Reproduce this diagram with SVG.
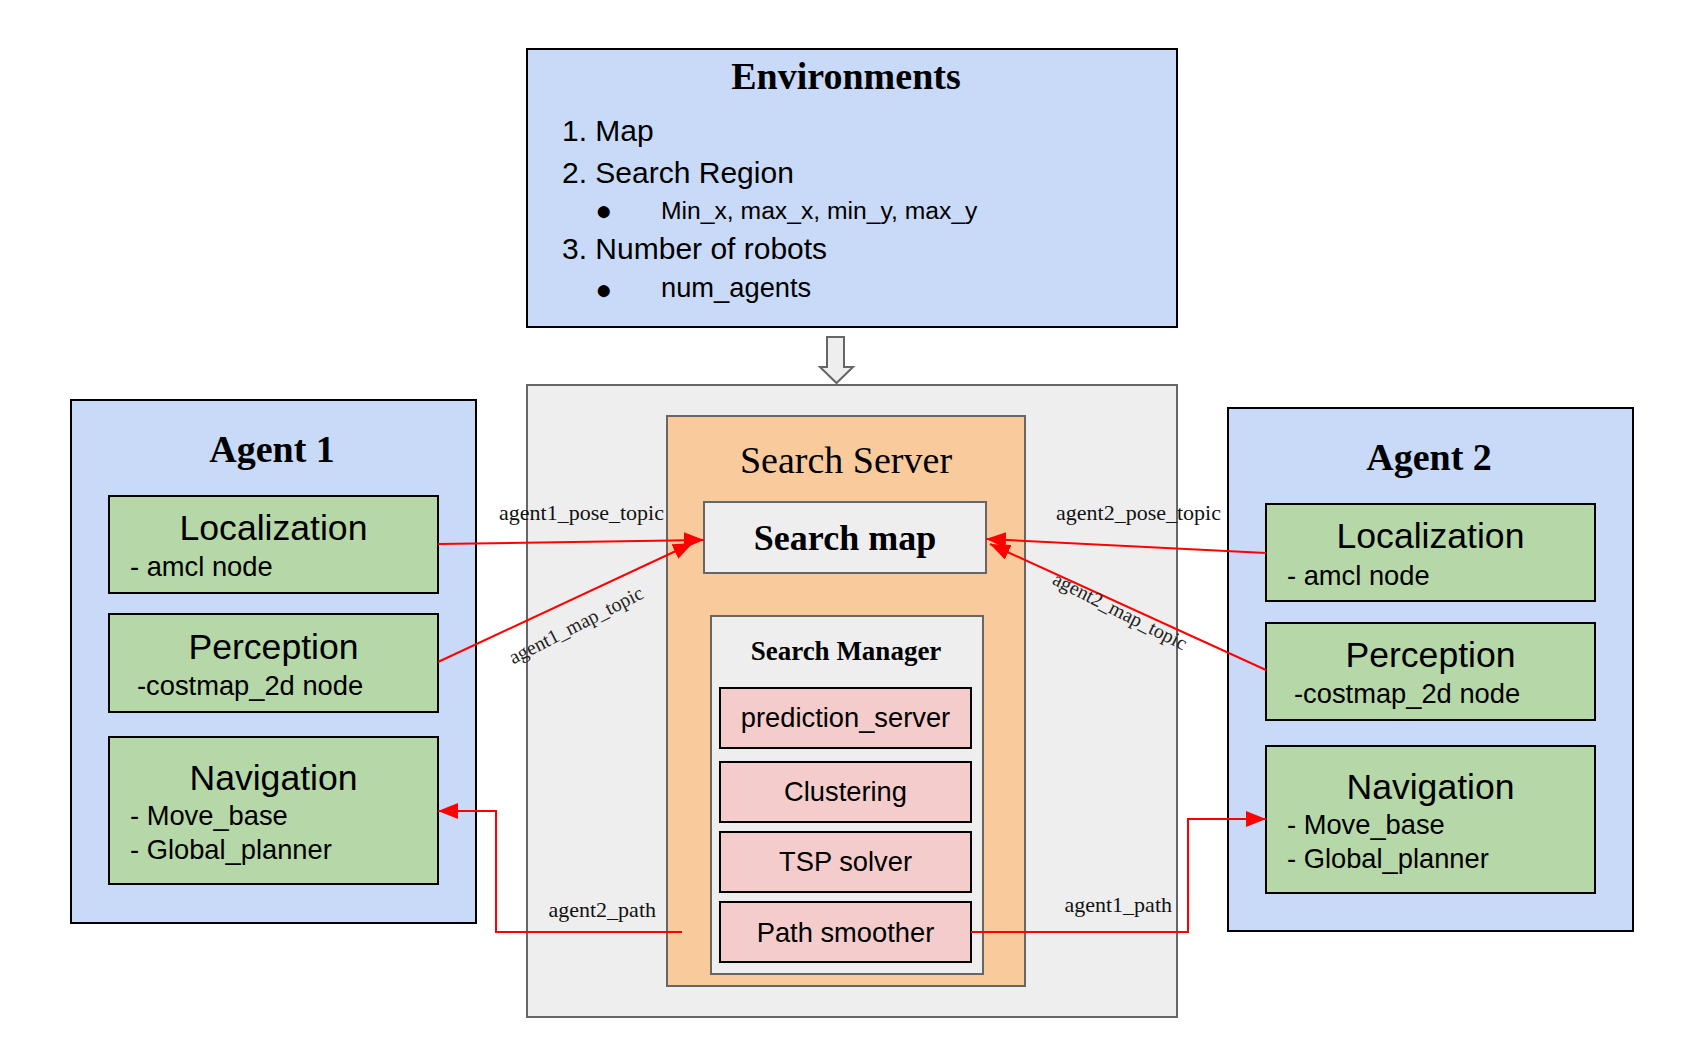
<svg xmlns="http://www.w3.org/2000/svg" width="1707" height="1059" viewBox="0 0 1707 1059">
<style>
.blue{fill:#c9daf8;stroke:#000;stroke-width:2}
.green{fill:#b6d7a8;stroke:#000;stroke-width:2}
.pink{fill:#f4cccc;stroke:#000;stroke-width:2}
.grey{fill:#eeeeee;stroke:#666;stroke-width:2}
.orange{fill:#f9cb9c;stroke:#666;stroke-width:2}
.sb{font-family:"Liberation Serif",serif;font-weight:bold;fill:#000}
.sr{font-family:"Liberation Serif",serif;fill:#000}
.ss{font-family:"Liberation Sans",Arial,sans-serif;fill:#000}
.c{text-anchor:middle}
.wire{fill:none;stroke:#ff0000;stroke-width:2}
.lbl{font-family:"Liberation Serif",serif;font-size:22px;fill:#111}
.lbl2{font-family:"Liberation Serif",serif;font-size:20px;fill:#222}
</style>
<defs>
<marker id="ah" markerUnits="userSpaceOnUse" markerWidth="20" markerHeight="16" refX="20" refY="8" orient="auto">
<path d="M0,0 L20,8 L0,16 z" fill="#ff0000"/>
</marker>
</defs>
<rect width="1707" height="1059" fill="#ffffff"/>

<g id="environments">
<rect class="blue" x="527" y="49" width="650" height="278"/>
<text class="sb c" x="846" y="89" font-size="38">Environments</text>
<text class="ss" x="562" y="141" font-size="30">1. Map</text>
<text class="ss" x="562" y="183" font-size="30">2. Search Region</text>
<text class="ss c" x="604" y="219.5" font-size="28">●</text>
<text class="ss" x="661" y="219" font-size="24.7">Min_x, max_x, min_y, max_y</text>
<text class="ss" x="562" y="259" font-size="30">3. Number of robots</text>
<text class="ss c" x="604" y="299" font-size="28">●</text>
<text class="ss" x="661" y="297" font-size="27.3">num_agents</text>
</g>

<g id="down-arrow">
<path d="M827,337 L844,337 L844,367 L853,367 L836.5,383 L820,367 L827,367 z" fill="#eeeeee" stroke="#666" stroke-width="2" stroke-linejoin="miter"/>
</g>

<g id="container">
<rect class="grey" x="527" y="385" width="650" height="632"/>
</g>

<g id="search-server">
<rect class="orange" x="667" y="416" width="358" height="570"/>
<text class="sr c" x="846" y="473" font-size="38">Search Server</text>
</g>

<g id="search-map">
<rect class="grey" x="704" y="502" width="282" height="71"/>
<text class="sb c" x="845" y="550" font-size="36">Search map</text>
</g>

<g id="search-manager">
<rect class="grey" x="711" y="616" width="272" height="358"/>
<text class="sb c" x="846" y="660" font-size="27">Search Manager</text>
</g>

<g id="prediction-server">
<rect class="pink" x="720" y="688" width="251" height="60"/>
<text class="ss c" x="845.5" y="727" font-size="27.3">prediction_server</text>
</g>
<g id="clustering">
<rect class="pink" x="720" y="762" width="251" height="60"/>
<text class="ss c" x="845.5" y="801" font-size="27.3">Clustering</text>
</g>
<g id="tsp-solver">
<rect class="pink" x="720" y="832" width="251" height="60"/>
<text class="ss c" x="845.5" y="871" font-size="27.3">TSP solver</text>
</g>
<g id="path-smoother">
<rect class="pink" x="720" y="902" width="251" height="60"/>
<text class="ss c" x="845.5" y="942" font-size="27.3">Path smoother</text>
</g>

<g id="agent1">
<rect class="blue" x="71" y="400" width="405" height="523"/>
<text class="sb c" x="272" y="462" font-size="38">Agent 1</text>
</g>
<g id="agent1-localization">
<rect class="green" x="109" y="496" width="329" height="97"/>
<text class="ss c" x="273.5" y="540" font-size="35.6">Localization</text>
<text class="ss" x="130" y="576" font-size="27.3">- amcl node</text>
</g>
<g id="agent1-perception">
<rect class="green" x="109" y="614" width="329" height="98"/>
<text class="ss c" x="273.5" y="659" font-size="35.6">Perception</text>
<text class="ss" x="137" y="695" font-size="27.3">-costmap_2d node</text>
</g>
<g id="agent1-navigation">
<rect class="green" x="109" y="737" width="329" height="147"/>
<text class="ss c" x="273.5" y="790" font-size="35.6">Navigation</text>
<text class="ss" x="130" y="825" font-size="27.3">- Move_base</text>
<text class="ss" x="130" y="859" font-size="27.3">- Global_planner</text>
</g>

<g id="agent2">
<rect class="blue" x="1228" y="408" width="405" height="523"/>
<text class="sb c" x="1429" y="470" font-size="38">Agent 2</text>
</g>
<g id="agent2-localization">
<rect class="green" x="1266" y="504" width="329" height="97"/>
<text class="ss c" x="1430.5" y="548" font-size="35.6">Localization</text>
<text class="ss" x="1287" y="585" font-size="27.3">- amcl node</text>
</g>
<g id="agent2-perception">
<rect class="green" x="1266" y="623" width="329" height="97"/>
<text class="ss c" x="1430.5" y="667" font-size="35.6">Perception</text>
<text class="ss" x="1294" y="703" font-size="27.3">-costmap_2d node</text>
</g>
<g id="agent2-navigation">
<rect class="green" x="1266" y="746" width="329" height="147"/>
<text class="ss c" x="1430.5" y="799" font-size="35.6">Navigation</text>
<text class="ss" x="1287" y="834" font-size="27.3">- Move_base</text>
<text class="ss" x="1287" y="868" font-size="27.3">- Global_planner</text>
</g>

<g id="connectors">
<line class="wire" x1="438" y1="544" x2="704" y2="540" marker-end="url(#ah)"/>
<line class="wire" x1="438" y1="662" x2="693" y2="543" marker-end="url(#ah)"/>
<line class="wire" x1="1266" y1="553" x2="986" y2="539" marker-end="url(#ah)"/>
<line class="wire" x1="1266" y1="670" x2="990" y2="544" marker-end="url(#ah)"/>
<polyline class="wire" points="682,932 496,932 496,811 438,811" marker-end="url(#ah)"/>
<polyline class="wire" points="971,932 1188,932 1188,819 1266,819" marker-end="url(#ah)"/>
<text class="lbl" x="499" y="520">agent1_pose_topic</text>
<text class="lbl" x="1056" y="520">agent2_pose_topic</text>
<text class="lbl2 c" x="0" y="0" transform="translate(579,631) rotate(-27)">agent1_map_topic</text>
<text class="lbl2 c" x="0" y="0" transform="translate(1117,617) rotate(27)">agent2_map_topic</text>
<text class="lbl" x="656" y="917" text-anchor="end">agent2_path</text>
<text class="lbl" x="1172" y="912" text-anchor="end">agent1_path</text>
</g>
</svg>
